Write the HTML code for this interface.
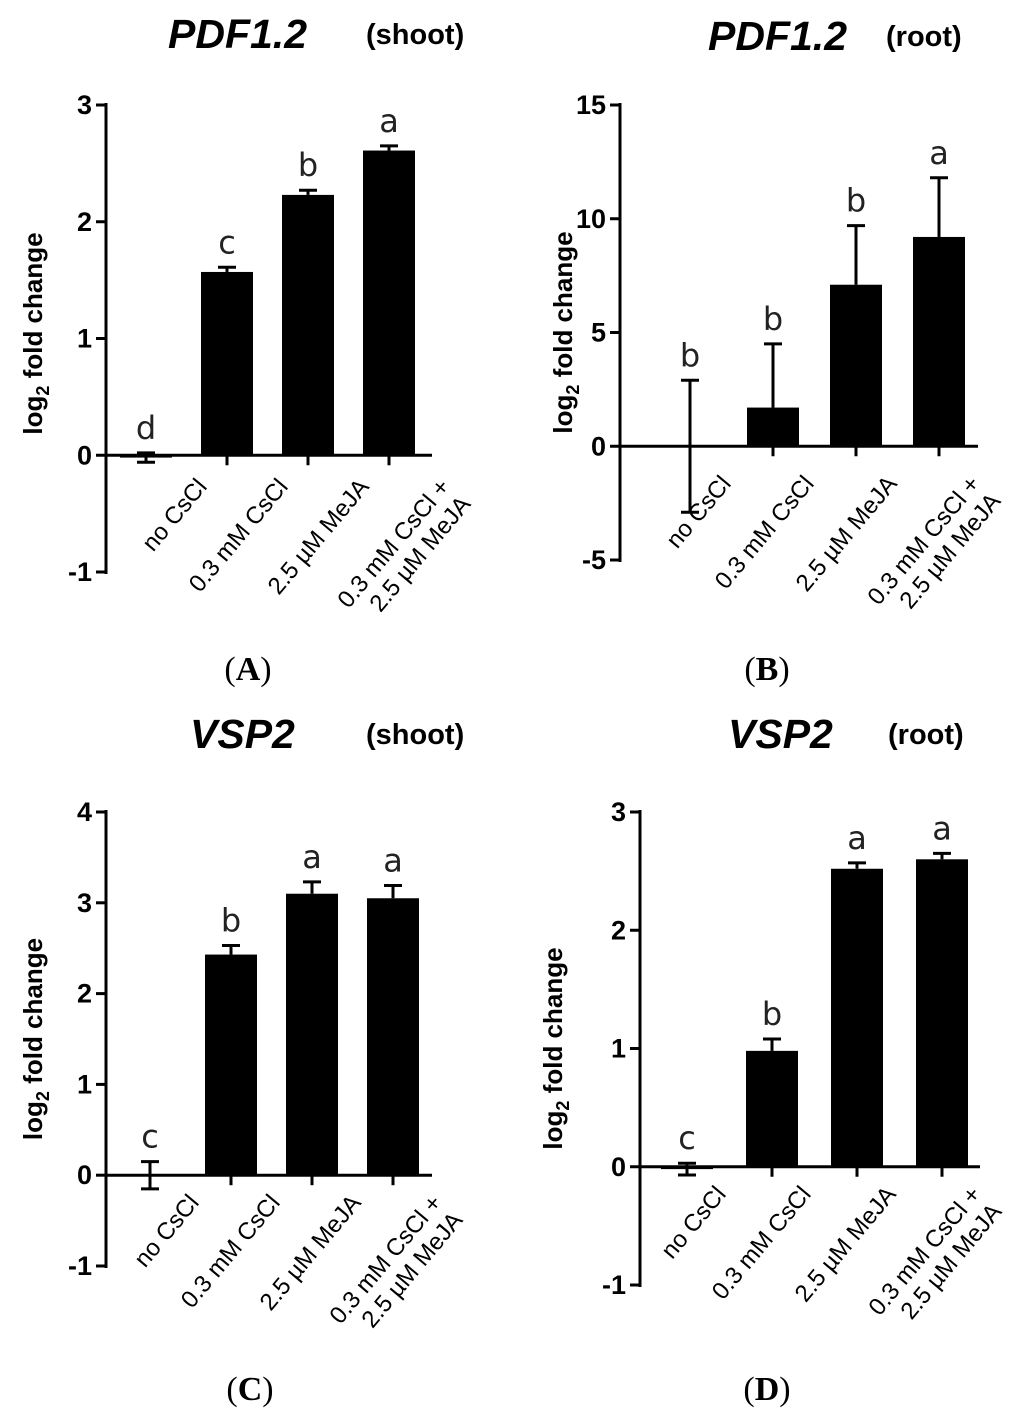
<!DOCTYPE html>
<html><head><meta charset="utf-8"><style>
html,body{margin:0;padding:0;background:#fff;}
svg{display:block;font-family:"Liberation Sans",Arial,sans-serif;}
</style></head><body>
<svg id="fig" width="1024" height="1423" viewBox="0 0 1024 1423"></svg>
<script>
const categories = ["no CsCl","0.3 mM CsCl","2.5 \u00b5M MeJA","0.3 mM CsCl +|2.5 \u00b5M MeJA"];
// Panel A: PDF1.2 shoot
const valuesA = [-0.02, 1.57, 2.23, 2.61];
const errorsA = [0.04, 0.04, 0.04, 0.04];
const lettersA = ["d","c","b","a"];
const ticksA = [-1, 0, 1, 2, 3];
// Panel B: PDF1.2 root
const valuesB = [0, 1.7, 7.1, 9.2];
const errorsB = [2.9, 2.8, 2.6, 2.6];
const lettersB = ["b","b","b","a"];
const ticksB = [-5, 0, 5, 10, 15];
// Panel C: VSP2 shoot
const valuesC = [0.0, 2.43, 3.1, 3.05];
const errorsC = [0.15, 0.1, 0.13, 0.14];
const lettersC = ["c","b","a","a"];
const ticksC = [-1, 0, 1, 2, 3, 4];
// Panel D: VSP2 root
const valuesD = [-0.02, 0.98, 2.52, 2.6];
const errorsD = [0.05, 0.1, 0.05, 0.05];
const lettersD = ["c","b","a","a"];
const ticksD = [-1, 0, 1, 2, 3];

const NS = "http://www.w3.org/2000/svg";
const svg = document.getElementById("fig");
function mk(tag, attrs, parent, text){
  const e = document.createElementNS(NS, tag);
  for (const k in attrs) e.setAttribute(k, attrs[k]);
  if (text !== undefined) e.textContent = text;
  (parent||svg).appendChild(e);
  return e;
}

function panel(cfg, values, errors, letters, ticks){
  const g = mk("g", {});
  
  
  const yMin = ticks[0], yMax = ticks[ticks.length-1];
  const y = v => cfg.yBottom - (v - yMin) / (yMax - yMin) * (cfg.yBottom - cfg.yTop);
  const x = i => cfg.x0 + i * cfg.step;
  const y0 = y(0);
  const ax = mk("line", {x1:cfg.axisX, x2:cfg.axisX, y1:y(yMax)-2, y2:y(yMin)+2, stroke:"#000","stroke-width":3}, g);
  
  
  ticks.forEach(t => {
    mk("line", {x1:cfg.axisX-10, x2:cfg.axisX, y1:y(t), y2:y(t), stroke:"#000","stroke-width":3}, g);
    const tl = mk("text", {x:cfg.axisX-14, y:y(t)+9, "text-anchor":"end","font-size":27,"font-weight":"bold"}, g, String(t));
    
    
  });
  const zl = mk("line", {x1:cfg.axisX, x2:cfg.zeroEnd, y1:y0, y2:y0, stroke:"#000","stroke-width":3}, g);
  
  
  values.forEach((v,i) => {
    const cx = x(i);
    const top = Math.min(y(v), y0), h = Math.abs(y(v) - y0);
    const b = mk("rect", {x:cx-cfg.bw/2, y:top, width:cfg.bw, height:Math.max(h,0.5), fill:"#000"}, g);
    
    
    if (i > 0) mk("line", {x1:cx, x2:cx, y1:y0, y2:y0+10, stroke:"#000","stroke-width":3}, g);
    const eTop = y(v + errors[i]);
    const eBot = y(v - errors[i]);
    const eb = mk("g", {}, g);
    
    
    if (i === 0 || v <= 0) {
      mk("line", {x1:cx, x2:cx, y1:eTop, y2:eBot, stroke:"#000","stroke-width":3}, eb);
      mk("line", {x1:cx-9, x2:cx+9, y1:eBot, y2:eBot, stroke:"#000","stroke-width":3}, eb);
    } else {
      mk("line", {x1:cx, x2:cx, y1:eTop, y2:y(v), stroke:"#000","stroke-width":3}, eb);
    }
    mk("line", {x1:cx-9, x2:cx+9, y1:eTop, y2:eTop, stroke:"#000","stroke-width":3}, eb);
    const lt = mk("text", {x:cx, y:eTop - 14, "text-anchor":"middle","font-size":32,"font-family":"'DejaVu Sans',sans-serif","fill":"#222"}, g, letters[i]);
    
    
    const parts = categories[i].split("|");
    const ex = cx + cfg.labDx, ey = y0 + cfg.labDy;
    parts.forEach((p, k) => {
      const t = mk("text", {x:0, y:k*27, "text-anchor":"end","font-size":24,
        transform:`translate(${ex},${ey}) rotate(-50)`}, g, p);
      
      
    });
  });
  const yt = mk("text", {x:0, y:0, "text-anchor":"middle","font-size":26,"font-weight":"bold",
    transform:`translate(${cfg.titleX},${(y(yMax)+y(yMin))/2 + cfg.titleDy}) rotate(-90)`}, g);
  
  
  mk("tspan", {}, yt, "log");
  mk("tspan", {"font-size":18, dy:7}, yt, "2");
  mk("tspan", {dy:-7}, yt, " fold change");
  const tt = mk("text", {x:cfg.tX, y:cfg.tY, "font-size":41,"font-weight":"bold","font-style":"italic"}, g, cfg.gene);
  
  
  const ts = mk("text", {x:cfg.sX, y:cfg.tY-4, "font-size":29,"font-weight":"bold"}, g, cfg.tissue);
  
  
  const pl = mk("text", {x:cfg.pX, y:cfg.pY, "text-anchor":"middle","font-size":34,"font-family":"'Liberation Serif',serif"}, g);
  
  
  mk("tspan", {}, pl, "(");
  mk("tspan", {"font-weight":"bold"}, pl, cfg.letter);
  mk("tspan", {}, pl, ")");
}

panel({name:"panel-a", axisX:106, yTop:105, yBottom:572, x0:146, step:81, bw:52, zeroEnd:432,
  labDx:62, labDy:32, titleX:42, titleDy:-5, gene:"PDF1.2", tissue:"(shoot)", tX:168, sX:366, tY:48,
  pX:248, pY:680, letter:"A"}, valuesA, errorsA, lettersA, ticksA);
panel({name:"panel-b", axisX:620, yTop:105, yBottom:560, x0:690, step:83, bw:52, zeroEnd:978,
  labDx:42, labDy:38, titleX:572, titleDy:0, gene:"PDF1.2", tissue:"(root)", tX:708, sX:886, tY:50,
  pX:767, pY:680, letter:"B"}, valuesB, errorsB, lettersB, ticksB);
panel({name:"panel-c", axisX:106, yTop:812, yBottom:1266, x0:150, step:81, bw:52, zeroEnd:432,
  labDx:50, labDy:28, titleX:42, titleDy:0, gene:"VSP2", tissue:"(shoot)", tX:190, sX:366, tY:748,
  pX:250, pY:1400, letter:"C"}, valuesC, errorsC, lettersC, ticksC);
panel({name:"panel-d", axisX:640, yTop:812, yBottom:1285, x0:687, step:85, bw:52, zeroEnd:980,
  labDx:40, labDy:28, titleX:562, titleDy:0, gene:"VSP2", tissue:"(root)", tX:728, sX:888, tY:748,
  pX:767, pY:1400, letter:"D"}, valuesD, errorsD, lettersD, ticksD);
</script>
</body></html>
